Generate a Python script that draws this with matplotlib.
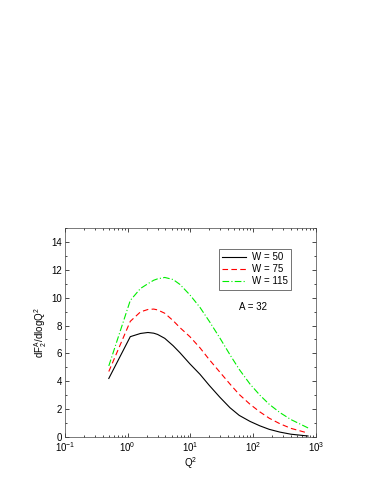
import numpy as np
import matplotlib.pyplot as plt
from matplotlib.ticker import LogLocator, MultipleLocator

plt.rcParams['font.family'] = ['Liberation Sans', 'DejaVu Sans']
plt.rcParams['mathtext.fontset'] = 'custom'
plt.rcParams['mathtext.rm'] = 'Liberation Sans'
plt.rcParams['mathtext.it'] = 'Liberation Sans'

# Q^2 values and curves for the three W values
q2 = [0.5, 1.1, 1.6, 2.1, 2.6, 3.0, 3.9, 5.3, 6.8, 9.8, 14.2, 20, 29.5, 42.7, 60, 89, 128, 180, 267, 400, 750]
w50 = [4.2, 7.2, 7.43, 7.5, 7.45, 7.36, 7.08, 6.55, 6.05, 5.25, 4.5, 3.7, 2.85, 2.1, 1.55, 1.12, 0.8, 0.55, 0.35, 0.2, 0.07]
w75 = [4.7, 8.3, 8.98, 9.15, 9.18, 9.12, 8.88, 8.35, 7.85, 7.2, 6.4, 5.55, 4.65, 3.8, 3.05, 2.35, 1.8, 1.35, 0.95, 0.62, 0.28]
w115 = [5.1, 9.8, 10.66, 11.0, 11.25, 11.35, 11.45, 11.3, 10.95, 10.2, 9.3, 8.3, 7.1, 5.9, 4.85, 3.8, 3.0, 2.35, 1.75, 1.25, 0.65]
labels = ['W = 50', 'W = 75', 'W = 115']

fig = plt.figure(figsize=(3.82, 4.94), dpi=100)
ax = fig.add_axes([0.170, 0.1154, 0.657, 0.4231])

ax.plot(q2, w50, color='black', lw=0.8, ls='-', label=labels[0])
ax.plot(q2, w75, color='red', lw=0.8, ls=(0, (5, 3)), label=labels[1])
ax.plot(q2, w115, color='#00ee00', lw=0.8, ls=(0, (6, 2, 1, 2)), label=labels[2])

ax.set_xscale('log')
ax.set_xlim(0.1, 1000)
ax.set_ylim(0, 15)
ax.yaxis.set_minor_locator(MultipleLocator(1))
ax.xaxis.set_major_locator(LogLocator(base=10, numticks=10))
ax.xaxis.set_minor_locator(LogLocator(base=10, subs=np.arange(2, 10), numticks=20))
ax.set_yticks([0, 2, 4, 6, 8, 10, 12, 14])

ax.tick_params(which='both', direction='in', top=True, right=True, labelsize=7, width=0.5, pad=2)
ax.tick_params(which='major', length=3)
ax.tick_params(which='minor', length=1.5)
for s in ax.spines.values():
    s.set_linewidth(0.5)
    s.set_color('#444444')

ax.set_xlabel('Q$^2$', fontsize=7, labelpad=1)
ax.set_ylabel('dF$_2^A$/dlogQ$^2$', fontsize=7, labelpad=2)

leg = ax.legend(loc='upper left', bbox_to_anchor=(0.614, 0.90), borderaxespad=0, fontsize=7,
                frameon=True, fancybox=False, edgecolor='#333333', handlelength=2.4,
                borderpad=0.35, labelspacing=0.2, handletextpad=0.6)
leg.get_frame().set_linewidth(0.6)

ax.text(0.75, 0.62, 'A = 32', fontsize=7, transform=ax.transAxes, ha='center', va='center')

fig.savefig('out.png', dpi=100)
